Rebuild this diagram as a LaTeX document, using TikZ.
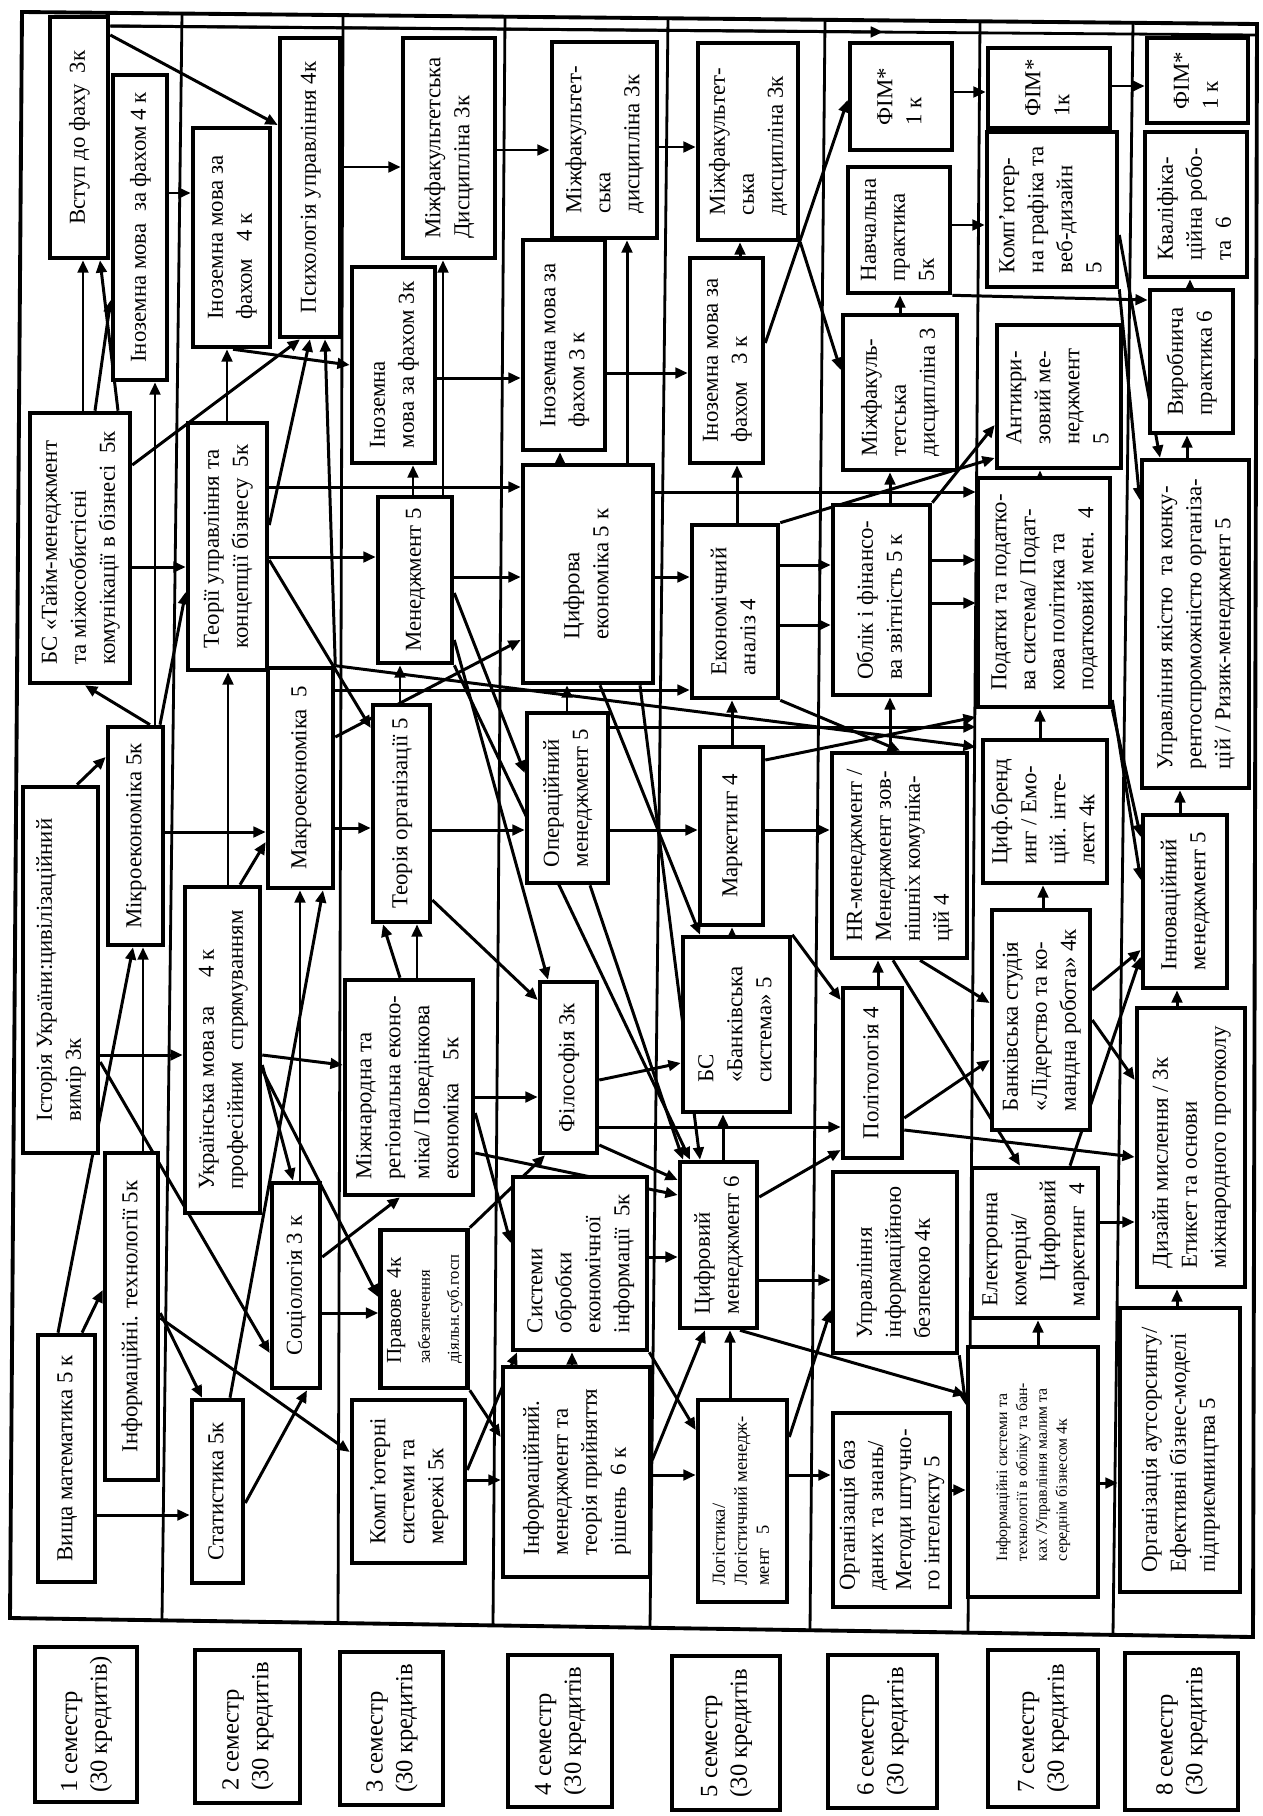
\documentclass[tikz,border=0pt]{standalone}
\usepackage{fontspec}
\setmainfont{Liberation Serif}
\usepackage{graphicx}
\usepackage{tikz}
\usetikzlibrary{arrows.meta,positioning,calc,backgrounds}

\newcommand{\vt}[1]{\rotatebox{90}{\begin{tabular}{@{}l@{}}#1\end{tabular}}}

\begin{document}
\begin{tikzpicture}[
  x=0.02cm, y=-0.02cm,
  course/.style={draw, line width=2.6pt, fill=white, inner sep=0pt, font=\fontsize{13}{16.5}\selectfont},
  cell/.style n args={4}{at={({(#1+#3)/2},{(#2+#4)/2})}, minimum width={(#3-#1)*0.02cm}, minimum height={(#4-#2)*0.02cm}},
  smalltext/.style={font=\fontsize{10.5}{12.5}\selectfont},
  sem/.style={draw, line width=2.6pt, fill=white, inner sep=0pt, font=\fontsize{14}{17}\selectfont},
  arr/.style={-{Triangle[length=7pt,width=6pt]}, line width=1.7pt},
  divider/.style={line width=1.6pt}
]
  \useasboundingbox (0,0) rectangle (1263,1816);

  \node[course, cell={50}{17}{108}{258}] (vstup) {\vt{Вступ до фаху~~3к}};
  \node[course, cell={113}{75}{167}{380}] (inmova1) {\vt{Іноземна мова~ за фахом 4 к}};
  \node[course, cell={30}{413}{130}{683}] (bstime) {\vt{БС «Тайм-менеджмент\\та міжособистісні\\комунікації в бізнесі~ 5к}};
  \node[course, cell={108}{727}{163}{945}] (mikro) {\vt{Мікроекономіка 5к}};
  \node[course, cell={23}{787}{98}{1153}] (istoria) {\vt{Історія України:цивілізаційний\\вимір 3к}};
  \node[course, cell={105}{1153}{158}{1480}] (inftech) {\vt{Інформаційні. технології 5к}};
  \node[course, cell={38}{1335}{95}{1582}] (vyshmat) {\vt{Вища математика 5 к}};

  \node[course, cell={193}{128}{270}{347}] (inmova2) {\vt{Іноземна мова за\\фахом~~~4 к}};
  \node[course, cell={188}{423}{267}{670}] (teoruprav) {\vt{Теорії управління та\\концепції бізнесу~ 5к}};
  \node[course, cell={268}{668}{333}{888}] (makro) {\vt{Макроекономіка~ 5}};
  \node[course, cell={185}{887}{260}{1213}] (ukrmova) {\vt{Українська мова за~~~~~4 к\\професійним~ спрямуванням}};
  \node[course, cell={272}{1183}{320}{1388}] (sociol) {\vt{Соціологія 3 к}};
  \node[course, cell={192}{1400}{243}{1583}] (statyst) {\vt{Статистика 5к}};

  \node[course, cell={280}{38}{340}{337}] (psyhol) {\vt{Психологія управління 4к}};
  \node[course, cell={352}{267}{435}{463}] (inmova3) {\vt{Іноземна\\мова за фахом 3к}};
  \node[course, cell={403}{38}{495}{258}] (mizhfak3) {\vt{Міжфакультетська\\Дисципліна 3к}};
  \node[course, cell={378}{497}{452}{663}] (menedzh) {\vt{Менеджмент 5}};
  \node[course, cell={373}{705}{430}{922}] (teororg) {\vt{Теорія організації 5}};
  \node[course, cell={345}{980}{473}{1195}] (mizhnar) {\vt{Міжнародна та\\регіональна еконо-\\міка/ Поведінкова\\економіка~~~ 5к}};
  \node[course, cell={383}{1230}{465}{1388}] (pravove) {\vt{\fontsize{12}{14}\selectfont Правове~ 4к\\\fontsize{9.5}{11.5}\selectfont забезпечення\\\fontsize{9.5}{11.5}\selectfont діяльн.суб.госп}};
  \node[course, cell={352}{1400}{465}{1563}] (kompsys) {\vt{Комп’ютерні\\системи та\\мережі 5к}};

  \node[course, cell={552}{42}{657}{238}] (mizhfak4) {\vt{Міжфакультет-\\ська\\дисципліна 3к}};
  \node[course, cell={523}{240}{605}{450}] (inmova4) {\vt{Іноземна мова за\\фахом 3 к}};
  \node[course, cell={523}{465}{653}{683}] (cyfrek) {\vt{Цифрова\\економіка 5 к}};
  \node[course, cell={527}{713}{608}{883}] (operman) {\vt{Операційний\\менеджмент 5}};
  \node[course, cell={540}{982}{597}{1153}] (filos) {\vt{Філософія 3к}};
  \node[course, cell={513}{1177}{647}{1350}] (sysobr) {\vt{Системи\\обробки\\економічної\\інформації~ 5к}};
  \node[course, cell={503}{1367}{650}{1577}] (infman) {\vt{Інформаційний.\\менеджмент та\\теорія прийняття\\рішень~ 6 к}};

  \node[course, cell={698}{43}{798}{240}] (mizhfak5) {\vt{Міжфакультет-\\ська\\дисципліна 3к}};
  \node[course, cell={690}{258}{763}{463}] (inmova5) {\vt{Іноземна мова за\\фахом~~ 3 к}};
  \node[course, cell={692}{525}{778}{698}] (ekanal) {\vt{Економічний\\аналіз 4}};
  \node[course, cell={700}{747}{763}{925}] (market) {\vt{Маркетинг 4}};
  \node[course, cell={683}{937}{790}{1112}] (bsbank) {\vt{БС\\«Банківська\\система» 5}};
  \node[course, cell={680}{1162}{757}{1328}] (cyfman) {\vt{Цифровий\\менеджмент 6}};
  \node[course, smalltext, cell={698}{1400}{787}{1602}] (logist) {\vt{Логістика/\\Логістичний менедж-\\мент~~ 5}};

  \node[course, cell={850}{43}{952}{150}] (fim6) {\vt{ФІМ*\\1 к}};
  \node[course, cell={848}{167}{950}{293}] (navch) {\vt{Навчальна\\практика\\5к}};
  \node[course, cell={843}{315}{957}{470}] (mizhfak6) {\vt{Міжфакуль-\\тетська\\дисципліна 3}};
  \node[course, cell={833}{505}{930}{695}] (oblik) {\vt{Облік і фінансо-\\ва звітність 5 к}};
  \node[course, cell={832}{753}{967}{958}] (hrman) {\vt{HR-менеджмент /\\Менеджмент зов-\\нішніх комуніка-\\цій 4}};
  \node[course, cell={843}{988}{902}{1158}] (polit) {\vt{Політологія 4}};
  \node[course, cell={833}{1172}{957}{1353}] (infbezp) {\vt{Управління\\інформаційною\\безпекою 4к}};
  \node[course, font=\fontsize{13}{16}\selectfont, cell={833}{1413}{950}{1607}] (orgbaz) {\vt{Організація баз\\даних та знань/\\Методи штучно-\\го інтелекту 5}};

  \node[course, cell={988}{48}{1110}{128}] (fim7) {\vt{ФІМ*\\1к}};
  \node[course, cell={987}{132}{1117}{287}] (kompgraf) {\vt{Комп’ютер-\\на графіка та\\веб-дизайн\\5}};
  \node[course, cell={997}{325}{1121}{468}] (antykr) {\vt{Антикри-\\зовий ме-\\неджмент\\5}};
  \node[course, cell={978}{478}{1110}{707}] (podatky) {\vt{Податки та податко-\\ва система/ Подат-\\кова політика та\\податковий мен.~ 4}};
  \node[course, cell={983}{740}{1107}{883}] (cyfbrend) {\vt{Циф.бренд\\инг / Емо-\\цій. інте-\\лект 4к}};
  \node[course, cell={992}{910}{1090}{1130}] (bankstud) {\vt{Банківська студія\\«Лідерство та ко-\\мандна робота» 4к}};
  \node[course, cell={972}{1168}{1098}{1318}] (elkom) {\vt{Електронна\\комерція/\\\hspace{14pt}Цифровий\\маркетинг~ 4}};
  \node[course, font=\fontsize{9}{11.3}\selectfont, cell={968}{1347}{1098}{1597}] (infsys) {\vt{Інформаційні системи та\\технології в обліку та бан-\\ках /Управління малим та\\середнім бізнесом 4к}};

  \node[course, cell={1147}{38}{1248}{123}] (fim8) {\vt{ФІМ*\\1 к}};
  \node[course, cell={1145}{132}{1247}{277}] (kvalif) {\vt{Кваліфіка-\\ційна робо-\\та~ 6}};
  \node[course, cell={1150}{290}{1233}{433}] (vyrob) {\vt{Виробнича\\практика 6}};
  \node[course, cell={1142}{460}{1249}{788}] (yakist) {\vt{Управління якістю~ та конку-\\рентоспроможністю організа-\\цій / Ризик-менеджмент 5}};
  \node[course, cell={1143}{815}{1227}{988}] (innov) {\vt{Інноваційний\\менеджмент 5}};
  \node[course, cell={1137}{1008}{1245}{1287}] (dyzain) {\vt{Дизайн мислення / 3к\\Етикет та основи\\міжнародного протоколу}};
  \node[course, cell={1120}{1308}{1240}{1592}] (autsors) {\vt{Організація аутсорсингу/\\Ефективні бізнес-моделі\\підприємництва 5}};

  \node[sem, cell={35}{1647}{137}{1802}] (sem1) {\vt{1 семестр\\(30 кредитів)}};
  \node[sem, cell={195}{1650}{300}{1803}] (sem2) {\vt{2 семестр\\(30 кредитів}};
  \node[sem, cell={340}{1652}{443}{1805}] (sem3) {\vt{3 семестр\\(30 кредитів}};
  \node[sem, cell={508}{1655}{612}{1807}] (sem4) {\vt{4 семестр\\(30 кредитів}};
  \node[sem, cell={672}{1656}{780}{1810}] (sem5) {\vt{5 семестр\\(30 кредитів}};
  \node[sem, cell={828}{1655}{937}{1808}] (sem6) {\vt{6 семестр\\(30 кредитів}};
  \node[sem, cell={988}{1650}{1098}{1807}] (sem7) {\vt{7 семестр\\(30 кредитів}};
  \node[sem, cell={1125}{1653}{1238}{1810}] (sem8) {\vt{8 семестр\\(30 кредитів}};

  \coordinate (topend) at (1255,35);
  \coordinate (fimtop) at (883,32);

  \begin{scope}[on background layer]
    \draw[divider, line width=2.2pt] (22,12) -- (1257,24) -- (1253,1637) -- (10,1618) -- cycle;
    \draw[divider] (182,14) -- (162,1620);
    \draw[divider] (343,15) -- (338,1623);
    \draw[divider] (505,17) -- (493,1625);
    \draw[divider] (668,18) -- (650,1628);
    \draw[divider] (825,20) -- (810,1630);
    \draw[divider] (980,21) -- (968,1633);
    \draw[divider] (1133,23) -- (1113,1635);
    \draw[divider] (vstup.east |- 0,26) -- (topend);
    \draw[arr] (vstup.east |- 0,26) -- (fimtop);

    \draw[arr] (vstup.east |- 0,35) -- (psyhol.west |- 0,125);
    \draw[arr] (inmova1.east |- 0,193) -- (inmova2.west |- 0,193);
    \draw[arr] (psyhol.east |- 0,167) -- (mizhfak3.west |- 0,167);
    \draw[arr] (mizhfak3.east |- 0,150) -- (mizhfak4.west |- 0,150);
    \draw[arr] (mizhfak4.east |- 0,147) -- (mizhfak5.west |- 0,147);
    \draw[arr] (inmova2.south -| 233,0) -- (inmova3.west |- 0,365);
    \draw[arr] (inmova3.east |- 0,378) -- (inmova4.west |- 0,378);
    \draw[arr] (inmova4.east |- 0,373) -- (inmova5.west |- 0,373);
    \draw[arr] (inmova5.east |- 0,343) -- (fim6.west |- 0,100);
    \draw[arr] (fim6.east |- 0,92) -- (fim7.west |- 0,92);
    \draw[arr] (fim7.east |- 0,86) -- (fim8.west |- 0,86);
    \draw[arr] (navch.east |- 0,225) -- (kompgraf.west |- 0,225);
    \draw[arr] (navch.south east) -- (vyrob.west |- 0,300);
    \draw[arr] (mizhfak6.north -| 900,0) -- (navch.south -| 900,0);
    \draw[arr] (vyrob.north -| 1190,0) -- (kvalif.south -| 1190,0);
    \draw[arr] (yakist.north -| 1187,0) -- (vyrob.south -| 1187,0);
    \draw[arr] (kompgraf.east |- 0,235) -- (yakist.north -| 1160,0);
    \draw[arr] (kompgraf.south east) -- (yakist.west |- 0,500);
    \draw[arr] (podatky.north -| 1040,0) -- (antykr.south -| 1040,0);
    \draw[arr] (ekanal.north east) -- (antykr.west |- 0,458);
    \draw[arr] (mizhfak5.south east) -- (mizhfak6.west |- 0,370);
    \draw[arr] (oblik.north east) -- (antykr.west |- 0,425);

    \draw[arr] (mikro.north -| 150,0) -- (bstime.south -| 85,0);
    \draw[arr] (bstime.north -| 83,0) -- (vstup.south -| 83,0);
    \draw[arr] (bstime.north -| 118,0) -- (vstup.south -| 100,0);
    \draw[arr] (bstime.north -| 95,0) -- (inmova1.west |- 0,300);
    \draw[arr] (mikro.north -| 155,0) -- (inmova1.south -| 155,0);
    \draw[arr] (bstime.east |- 0,465) -- (psyhol.south -| 300,0);
    \draw[arr] (mikro.north -| 160,0) -- (teoruprav.west |- 0,592);
    \draw[arr] (bstime.east |- 0,567) -- (teoruprav.west |- 0,567);
    \draw[arr] (teoruprav.north -| 227,0) -- (inmova2.south -| 227,0);
    \draw[arr] (teoruprav.east |- 0,525) -- (psyhol.south -| 310,0);
    \draw[arr] (makro.north east) -- (psyhol.south -| 325,0);
    \draw[arr] (teoruprav.east |- 0,557) -- (menedzh.west |- 0,557);
    \draw[arr] (teoruprav.east |- 0,487) -- (cyfrek.west |- 0,487);
    \draw[arr] (teoruprav.east |- 0,560) -- (teororg.west |- 0,728);
    \draw[arr] (mikro.east |- 0,832) -- (makro.west |- 0,832);
    \draw[arr] (makro.east |- 0,828) -- (teororg.west |- 0,828);
    \draw[arr] (istoria.north -| 77,0) -- (mikro.west |- 0,757);
    \draw[arr] (istoria.east |- 0,1055) -- (ukrmova.west |- 0,1055);
    \draw[arr] (istoria.east |- 0,1062) -- (sociol.west |- 0,1353);
    \draw[arr] (inftech.north -| 143,0) -- (mikro.south -| 143,0);
    \draw[arr] (vyshmat.north -| 58,0) -- (mikro.south -| 133,0);
    \draw[arr] (vyshmat.north -| 82,0) -- (inftech.west |- 0,1290);
    \draw[arr] (vyshmat.east |- 0,1515) -- (statyst.west |- 0,1515);
    \draw[arr] (inftech.east |- 0,1313) -- (statyst.north -| 202,0);
    \draw[arr] (inftech.east |- 0,1318) -- (kompsys.west |- 0,1452);

    \draw[arr] (ukrmova.north -| 228,0) -- (teoruprav.south -| 228,0);
    \draw[arr] (ukrmova.north -| 240,0) -- (makro.west |- 0,842);
    \draw[arr] (ukrmova.east |- 0,1065) -- (sociol.north -| 293,0);
    \draw[arr] (ukrmova.east |- 0,1055) -- (mizhnar.west |- 0,1065);
    \draw[arr] (ukrmova.east |- 0,1070) -- (pravove.west |- 0,1297);
    \draw[arr] (sociol.east |- 0,1313) -- (pravove.west |- 0,1313);
    \draw[arr] (sociol.north -| 300,0) -- (makro.south -| 300,0);
    \draw[arr] (statyst.north -| 230,0) -- (makro.south -| 323,0);
    \draw[arr] (statyst.east |- 0,1503) -- (sociol.south -| 307,0);
    \draw[arr] (sociol.east |- 0,1257) -- (mizhnar.south -| 400,0);
    \draw[arr] (mizhnar.north -| 417,0) -- (teororg.south -| 417,0);
    \draw[arr] (mizhnar.north -| 400,0) -- (teororg.south -| 383,0);
    \draw[arr] (mizhnar.east |- 0,1097) -- (filos.west |- 0,1097);
    \draw[arr] (mizhnar.east |- 0,1113) -- (sysobr.west |- 0,1243);
    \draw[arr] (pravove.north east) -- (filos.south -| 545,0);
    \draw[arr] (pravove.south east) -- (infman.west |- 0,1437);
    \draw[arr] (kompsys.east |- 0,1480) -- (infman.west |- 0,1480);
    \draw[arr] (kompsys.east |- 0,1470) -- (sysobr.south -| 517,0);

    \draw[arr] (infman.north -| 572,0) -- (sysobr.south -| 572,0);
    \draw[arr] (infman.east |- 0,1475) -- (logist.west |- 0,1475);
    \draw[arr] (sysobr.south east) -- (logist.west |- 0,1430);
    \draw[arr] (logist.north -| 730,0) -- (cyfman.south -| 730,0);
    \draw[arr] (infman.east |- 0,1460) -- (cyfman.south -| 705,0);
    \draw[arr] (logist.east |- 0,1475) -- (orgbaz.west |- 0,1475);
    \draw[arr] (logist.east |- 0,1437) -- (infbezp.west |- 0,1310);
    \draw[arr] (orgbaz.east |- 0,1490) -- (infsys.west |- 0,1490);
    \draw[arr] (infsys.east |- 0,1483) -- (autsors.west |- 0,1483);
    \draw[arr] (infbezp.south east) -- (infsys.west |- 0,1405);
    \draw[arr] (cyfman.south -| 740,0) -- (infsys.west |- 0,1395);
    \draw[arr] (infsys.north -| 1038,0) -- (elkom.south -| 1038,0);
    \draw[arr] (autsors.north -| 1177,0) -- (dyzain.south -| 1177,0);
    \draw[arr] (dyzain.north -| 1177,0) -- (innov.south -| 1177,0);
    \draw[arr] (innov.north -| 1180,0) -- (yakist.south -| 1180,0);
    \draw[arr] (elkom.north -| 1070,0) -- (innov.west |- 0,957);
    \draw[arr] (elkom.east |- 0,1222) -- (dyzain.west |- 0,1222);
    \draw[arr] (bankstud.east |- 0,990) -- (innov.west |- 0,950);
    \draw[arr] (bankstud.east |- 0,1020) -- (dyzain.west |- 0,1080);
    \draw[arr] (polit.east |- 0,1130) -- (dyzain.west |- 0,1157);
    \draw[arr] (polit.east |- 0,1118) -- (bankstud.west |- 0,1060);
    \draw[arr] (polit.north -| 878,0) -- (hrman.south -| 878,0);
    \draw[arr] (hrman.south -| 893,0) -- (elkom.north -| 1020,0);
    \draw[arr] (hrman.south -| 920,0) -- (bankstud.west |- 0,1003);
    \draw[arr] (cyfbrend.north -| 1040,0) -- (podatky.south -| 1040,0);
    \draw[arr] (bankstud.north -| 1043,0) -- (cyfbrend.south -| 1043,0);
    \draw[arr] (podatky.south east) -- (innov.west |- 0,837);
    \draw[arr] (podatky.east |- 0,700) -- (innov.west |- 0,880);

    \draw[arr] (oblik.east |- 0,560) -- (podatky.west |- 0,560);
    \draw[arr] (oblik.east |- 0,603) -- (podatky.west |- 0,603);
    \draw[arr] (oblik.north -| 890,0) -- (mizhfak6.south -| 890,0);
    \draw[arr] (hrman.north -| 890,0) -- (oblik.south -| 890,0);
    \draw[arr] (ekanal.east |- 0,565) -- (oblik.west |- 0,565);
    \draw[arr] (ekanal.east |- 0,625) -- (oblik.west |- 0,625);
    \draw[arr] (ekanal.north -| 737,0) -- (inmova5.south -| 737,0);
    \draw[arr] (cyfrek.east |- 0,577) -- (ekanal.west |- 0,577);
    \draw[arr] (cyfrek.east |- 0,492) -- (podatky.west |- 0,492);
    \draw[arr] (cyfrek.north -| 627,0) -- (mizhfak4.south -| 627,0);
    \draw[arr] (cyfrek.north -| 560,0) -- (inmova4.south -| 560,0);
    \draw[arr] (inmova5.north -| 740,0) -- (mizhfak5.south -| 740,0);
    \draw[arr] (menedzh.north -| 443,0) -- (mizhfak3.south -| 443,0);
    \draw[arr] (menedzh.north -| 413,0) -- (inmova3.south -| 413,0);
    \draw[arr] (menedzh.east |- 0,577) -- (cyfrek.west |- 0,577);
    \draw[arr] (menedzh.east |- 0,593) -- (operman.west |- 0,773);
    \draw[arr] (makro.east |- 0,737) -- (cyfrek.west |- 0,640);
    \draw[arr] (makro.east |- 0,690) -- (ekanal.west |- 0,690);
    \draw[arr] (makro.north east) -- (podatky.west |- 0,747);
    \draw[arr] (operman.north -| 567,0) -- (cyfrek.south -| 567,0);
    \draw[arr] (operman.east |- 0,830) -- (market.west |- 0,830);
    \draw[arr] (operman.east |- 0,727) -- (podatky.west |- 0,727);
    \draw[arr] (teororg.east |- 0,830) -- (operman.west |- 0,830);
    \draw[arr] (teororg.north -| 400,0) -- (menedzh.south -| 400,0);
    \draw[arr] (market.north -| 732,0) -- (ekanal.south -| 732,0);
    \draw[arr] (market.east |- 0,760) -- (podatky.west |- 0,717);
    \draw[arr] (market.east |- 0,830) -- (hrman.west |- 0,830);
    \draw[arr] (bsbank.north -| 732,0) -- (market.south -| 732,0);
    \draw[arr] (menedzh.east |- 0,640) -- (filos.north -| 548,0);
    \draw[arr] (teororg.east |- 0,900) -- (filos.west |- 0,1000);
    \draw[arr] (menedzh.south east) -- (cyfman.north -| 690,0);
    \draw[arr] (cyfrek.south -| 640,0) -- (cyfman.north -| 700,0);
    \draw[arr] (cyfrek.south -| 600,0) -- (bsbank.north -| 700,0);
    \draw[arr] (operman.south -| 590,0) -- (cyfman.north -| 683,0);
    \draw[arr] (filos.east |- 0,1080) -- (bsbank.west |- 0,1063);
    \draw[arr] (filos.east |- 0,1127) -- (polit.west |- 0,1127);
    \draw[arr] (filos.east |- 0,1145) -- (cyfman.west |- 0,1180);
    \draw[arr] (mizhnar.east |- 0,1153) -- (cyfman.west |- 0,1195);
    \draw[arr] (sysobr.east |- 0,1257) -- (cyfman.west |- 0,1257);
    \draw[arr] (cyfman.north -| 723,0) -- (bsbank.south -| 723,0);
    \draw[arr] (cyfman.east |- 0,1280) -- (infbezp.west |- 0,1280);
    \draw[arr] (cyfman.east |- 0,1197) -- (polit.west |- 0,1150);
    \draw[arr] (bsbank.north east) -- (polit.west |- 0,1000);
    \draw[arr] (ekanal.south east) -- (hrman.north -| 900,0);
  \end{scope}
\end{tikzpicture}
\end{document}
